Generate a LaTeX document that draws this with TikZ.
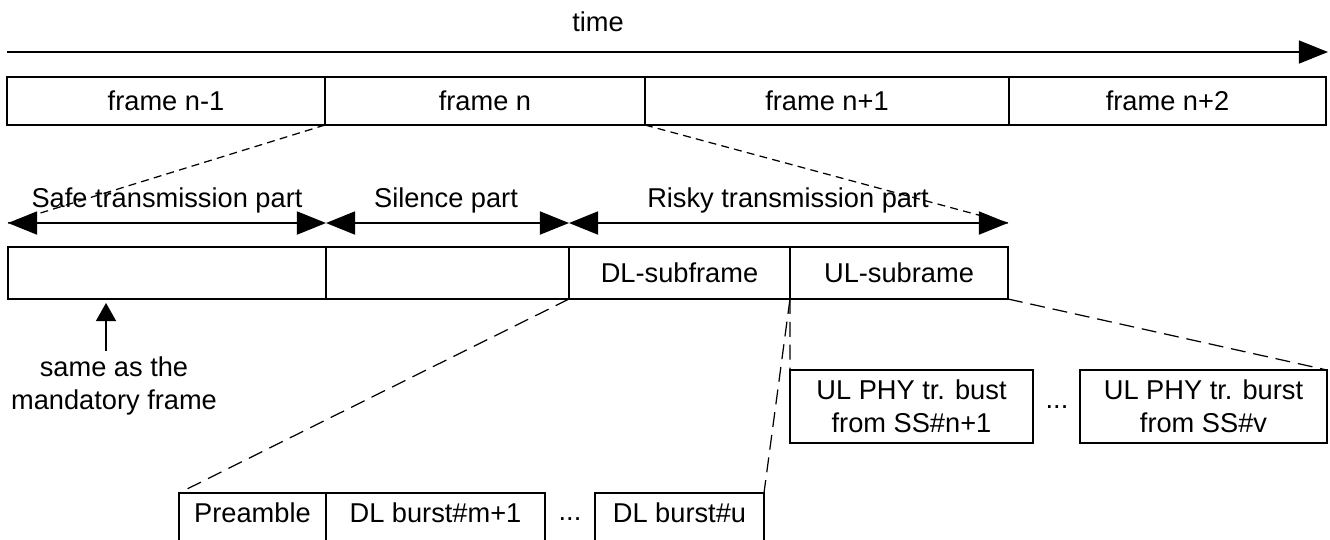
\documentclass[tikz,border=0pt]{standalone}
\usepackage{fontspec}
\setmainfont{Liberation Sans}
\usetikzlibrary{arrows.meta}

\begin{document}
\begin{tikzpicture}[x=0.02cm, y=-0.02cm,
    font=\fontsize{15.5}{18.8}\selectfont,
    >={Triangle[length=0.58cm, width=0.46cm]},
    cell/.style={draw, line width=0.8pt, inner sep=0pt, outer sep=0pt},
    span/.style={<->, line width=1pt, black},
    link/.style={dash pattern=on 4.5pt off 3pt, line width=0.7pt},
    longlink/.style={dash pattern=on 8.5pt off 4.5pt, line width=0.7pt}]
    \clip (0,0) rectangle (1330,539);

    % Draw the frames on the time axis
    \node (time) at (598,22) {time};
    \node[cell, minimum width=6.36cm, minimum height=0.96cm] (fprev) at (166,101) {frame n-1};
    \node[cell, minimum width=6.4cm, minimum height=0.96cm] (fcur) at (485,101) {frame n};
    \node[cell, minimum width=7.28cm, minimum height=0.96cm] (fnext) at (827,101) {frame n+1};
    \node[cell, minimum width=6.34cm, minimum height=0.96cm] (fnext2) at (1167.5,101) {frame n+2};
    \draw[->, line width=0.8pt] ([yshift=0.5cm]fprev.north west) -- ([xshift=0.04cm, yshift=0.5cm]fnext2.north east);

    % Parts of frame n
    \node[cell, minimum width=6.36cm, minimum height=1.04cm] (safe) at (167,273) {};
    \node[cell, minimum width=4.86cm, minimum height=1.04cm] (silence) at (447.5,273) {};
    \node[cell, minimum width=4.42cm, minimum height=1.04cm] (dlsub) at (679.5,273) {DL-subframe};
    \node[cell, minimum width=4.36cm, minimum height=1.04cm] (ulsub) at (899,273) {UL-subrame};

    \coordinate (safetip) at ([yshift=0.48cm]safe.north west);
    \coordinate (riskytip) at ([yshift=0.48cm]ulsub.north east);
    \draw[span] (safetip) -- ([yshift=0.48cm]safe.north east);
    \draw[span] ([yshift=0.48cm]silence.north west) -- ([yshift=0.48cm]silence.north east);
    \draw[span] ([yshift=0.48cm]dlsub.north west) -- (riskytip);
    \node (safelbl) at (167,200) {Safe transmission part};
    \node (silencelbl) at (446,200) {Silence part};
    \node (riskylbl) at (788,200) {Risky transmission part};

    % Note under the safe part
    \node[align=center] (note) at (114,386) {same as the\\mandatory frame};
    \coordinate (mark) at ([xshift=1.96cm, yshift=-0.08cm]safe.south west);
    \draw[-{Triangle[length=0.36cm, width=0.4cm]}, line width=0.8pt] (mark |- note.north) -- (mark);

    % Bursts of the subframes
    \node[cell, text depth=0.16cm, minimum width=2.94cm, minimum height=0.96cm] (pre) at (252.5,517) {Preamble};
    \node[cell, text depth=0.16cm, minimum width=4.38cm, minimum height=0.96cm] (dlm) at (435.5,517) {DL burst\#m+1};
    \node (dldots) at (570,519) {...};
    \node[cell, text depth=0.16cm, minimum width=3.38cm, minimum height=0.96cm] (dlu) at (679.5,517) {DL burst\#u};

    \node[cell, align=center, minimum width=4.86cm, minimum height=1.46cm] (ulfirst) at (911.5,406.5) {UL PHY tr. bust\\from SS\#n+1};
    \node (uldots) at (1057,407) {...};
    \node[cell, align=center, minimum width=4.94cm, minimum height=1.46cm] (ullast) at (1203.5,406.5) {UL PHY tr. burst\\from SS\#v};

    % Zoom lines
    \draw[link] (fcur.south west) -- (safetip);
    \draw[link] (fcur.south east) -- (riskytip);
    \draw[longlink] (dlsub.south west) -- (pre.north west);
    \draw[longlink] (dlsub.south east) -- (dlu.north east);
    \draw[longlink] (ulsub.south west) -- (ulfirst.north west);
    \draw[longlink] (ulsub.south east) -- (ullast.north east);
\end{tikzpicture}
\end{document}
